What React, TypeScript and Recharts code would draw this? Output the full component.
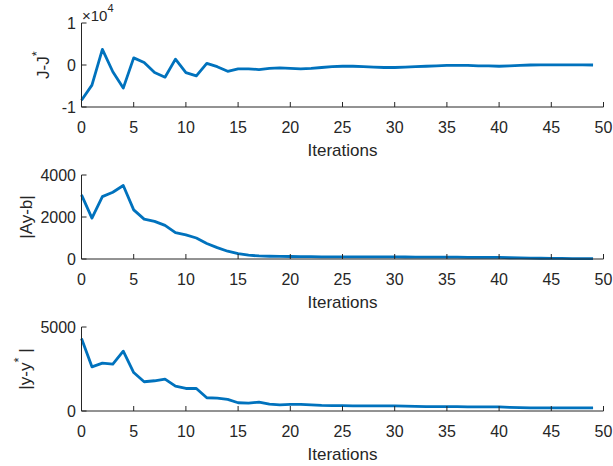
import React from 'react';
import { LineChart, Line, XAxis, YAxis } from 'recharts';

const iterations = Array.from({ length: 50 }, (_, i) => i);

const costGap = [
  -8400, -4800, 3700, -1600, -5500, 1700, 600, -1800, -2900, 1400,
  -1800, -2600, 400, -400, -1500, -900, -900, -1100, -800, -700,
  -800, -900, -800, -600, -400, -300, -300, -400, -500, -600,
  -600, -500, -400, -300, -200, -100, -100, -100, -200, -200,
  -300, -200, -100, 0, 50, 50, 50, 50, 50, 0,
];

const residual = [
  3050, 1950, 2970, 3180, 3500, 2340, 1900, 1790, 1600, 1260,
  1150, 1000, 740, 540, 370, 260, 180, 145, 130, 125,
  120, 115, 110, 105, 100, 100, 100, 100, 100, 100,
  100, 95, 90, 90, 85, 85, 85, 80, 80, 80,
  75, 60, 50, 40, 35, 30, 25, 20, 20, 15,
];

const distance = [
  4310, 2630, 2850, 2790, 3560, 2290, 1740, 1800, 1900, 1480,
  1340, 1340, 790, 770, 690, 490, 470, 530, 410, 370,
  400, 400, 360, 330, 320, 320, 310, 310, 310, 310,
  310, 290, 270, 260, 260, 260, 255, 250, 250, 245,
  240, 220, 200, 190, 190, 190, 190, 190, 190, 190,
];

const xTicks = [0, 5, 10, 15, 20, 25, 30, 35, 40, 45, 50];
const ticksJ = [-10000, 0, 10000];
const ticksAy = [0, 2000, 4000];
const ticksY = [0, 5000];

const FONT = '"Liberation Sans", Arial, Helvetica, sans-serif';
const INK = '#262626';
const BLUE = '#0072BD';
const W = 613;
const H = 164;
const PLOT_L = 81.5;
const PLOT_R = 603.5;
const PLOT_T = 23;
const PLOT_H = 84;
const X_AXIS_H = 45;

const tickStyle = { fontSize: 16, fill: INK, fontFamily: FONT };
const blank = () => '';

const xLabel = () => (
  <text x={(PLOT_L + PLOT_R) / 2} y={PLOT_T + PLOT_H + 49} textAnchor="middle"
    fontSize={17} fill={INK} fontFamily={FONT}>Iterations</text>
);

function yLabel(main: string, star: boolean, tail: string, cx: number, exponent = false) {
  const cy = PLOT_T + PLOT_H / 2;
  return () => (
    <g>
      <text x={cx} y={cy} transform={`rotate(-90, ${cx}, ${cy})`} textAnchor="middle"
        dominantBaseline="central" fontSize={17} fill={INK} fontFamily={FONT}>
        {main}
        {star ? <tspan dy={-7} fontSize={13}>*</tspan> : null}
        {tail ? <tspan dy={7}>{tail}</tspan> : null}
      </text>
      {exponent ? (
        <text x={82} y={21} fontSize={15} fill={INK} fontFamily={FONT}>
          ×10<tspan dy={-9} fontSize={11}>4</tspan>
        </text>
      ) : null}
    </g>
  );
}

interface PanelProps {
  values: number[];
  domain: [number, number];
  ticks: number[];
  fmt?: (v: number) => string;
  ylab: () => React.ReactElement;
  top: number;
}

function Panel({ values, domain, ticks, fmt, ylab, top }: PanelProps) {
  const data = iterations.map((it, i) => ({ it, v: values[i] }));
  return (
    <div style={{ position: 'absolute', left: 0, top }}>
      <LineChart width={W} height={H} data={data}
        margin={{ top: PLOT_T, right: W - PLOT_R, left: 0, bottom: H - PLOT_T - PLOT_H - X_AXIS_H }}>
        <XAxis dataKey="it" type="number" domain={[0, 50]} ticks={xTicks} height={X_AXIS_H}
          tickSize={-5} tickMargin={19.5} tick={tickStyle} interval={0}
          axisLine={{ stroke: INK }} tickLine={{ stroke: INK }} label={xLabel} />
        <XAxis xAxisId="top" orientation="top" dataKey="it" type="number" domain={[0, 50]} ticks={xTicks}
          height={0} tickSize={-5} tickFormatter={blank} interval={0}
          axisLine={{ stroke: INK }} tickLine={{ stroke: INK }} />
        <YAxis type="number" domain={domain} ticks={ticks} width={PLOT_L} interval={0}
          tickSize={-5} tickMargin={10.5} tick={tickStyle} tickFormatter={fmt}
          axisLine={{ stroke: INK }} tickLine={{ stroke: INK }} label={ylab} />
        <YAxis yAxisId="r" orientation="right" type="number" domain={domain} ticks={ticks} width={0}
          interval={0} tickSize={-5} tickFormatter={blank}
          axisLine={{ stroke: INK }} tickLine={{ stroke: INK }} />
        <Line type="linear" dataKey="v" stroke={BLUE} strokeWidth={2.8} dot={false}
          strokeLinejoin="round" isAnimationActive={false} />
      </LineChart>
    </div>
  );
}

export default function App() {
  return (
    <div style={{ position: 'absolute', left: 0, top: 0, width: W, height: 466, background: '#fff', overflow: 'hidden' }}>
      <Panel values={costGap} domain={[-10000, 10000]} ticks={ticksJ}
        fmt={(v) => String(v / 10000)} ylab={yLabel('J-J', true, '', 43, true)} top={0} />
      <Panel values={residual} domain={[0, 4000]} ticks={ticksAy}
        ylab={yLabel('|Ay-b|', false, '', 26)} top={152} />
      <Panel values={distance} domain={[0, 5000]} ticks={ticksY}
        ylab={yLabel('|y-y', true, ' |', 25)} top={304} />
    </div>
  );
}
